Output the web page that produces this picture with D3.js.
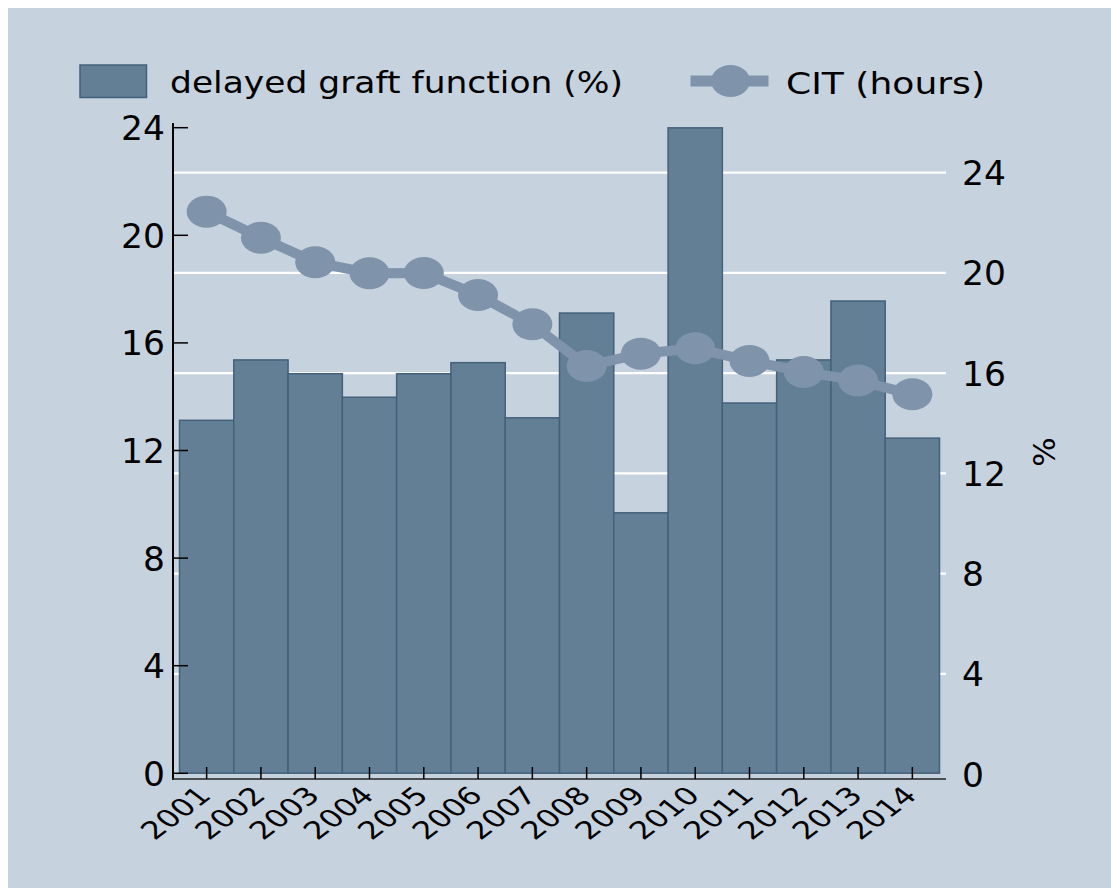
<!DOCTYPE html>
<html>
<head>
<meta charset="utf-8">
<script src="https://cdn.jsdelivr.net/npm/d3@7"></script>
<style>
  body { margin: 0; background: #ffffff; }
  text { font-family: "DejaVu Sans", Verdana, sans-serif; fill: #000000; }
</style>
</head>
<body>
<svg id="chart" width="1111" height="888"></svg>
<script>
// data
var years = ['2001', '2002', '2003', '2004', '2005', '2006', '2007', '2008', '2009', '2010', '2011', '2012', '2013', '2014'];
var dgf = [14.12, 16.53, 15.98, 15.04, 15.98, 16.42, 14.22, 18.40, 10.43, 25.79, 14.81, 16.53, 18.88, 13.41];
var cit = [20.88, 19.91, 19.0, 18.59, 18.6, 17.78, 16.69, 15.14, 15.60, 15.80, 15.33, 14.92, 14.60, 14.09];
var leftTicks = [0, 4, 8, 12, 16, 20, 24];
var rightTicks = [0, 4, 8, 12, 16, 20, 24];

var bg = '#c6d2de';
var barFill = '#637f96';
var barStroke = '#45617a';
var lineColor = '#7f93aa';

var plotLeft = 173;
var plotRight = 946;
var axisY = 779;

var svg = d3.select('#chart');

svg.append('rect')
  .attr('x', 8)
  .attr('y', 8)
  .attr('width', 1103)
  .attr('height', 880)
  .attr('fill', bg);

// scales
var x = d3.scaleBand()
  .domain(years)
  .range([179.5, 939.5])
  .padding(0);

var yLeft = d3.scaleLinear()
  .domain([0, 24])
  .range([773.3, 127.7]);

var yRight = d3.scaleLinear()
  .domain([0, 24])
  .range([774.2, 172.7]);

// gridlines (right axis)
svg.append('g')
  .selectAll('line')
  .data(rightTicks.filter(function(d) { return d > 0; }))
  .enter().append('line')
  .attr('x1', plotLeft)
  .attr('x2', plotRight)
  .attr('y1', function(d) { return yRight(d); })
  .attr('y2', function(d) { return yRight(d); })
  .attr('stroke', '#ffffff')
  .attr('stroke-width', 2.2);

// bars
svg.append('g')
  .selectAll('rect')
  .data(dgf)
  .enter().append('rect')
  .attr('x', function(d, i) { return x(years[i]); })
  .attr('width', x.bandwidth())
  .attr('y', function(d) { return yRight(d); })
  .attr('height', function(d) { return yRight(0) - yRight(d) - 1; })
  .attr('fill', barFill)
  .attr('stroke', barStroke)
  .attr('stroke-width', 1.5);

// CIT line
var line = d3.line()
  .x(function(d, i) { return x(years[i]) + x.bandwidth() / 2; })
  .y(function(d) { return yLeft(d); });

svg.append('path')
  .datum(cit)
  .attr('d', line)
  .attr('fill', 'none')
  .attr('stroke', lineColor)
  .attr('stroke-width', 10);

svg.append('g')
  .selectAll('ellipse')
  .data(cit)
  .enter().append('ellipse')
  .attr('cx', function(d, i) { return x(years[i]) + x.bandwidth() / 2; })
  .attr('cy', function(d) { return yLeft(d); })
  .attr('rx', 20)
  .attr('ry', 16)
  .attr('fill', lineColor);

// left axis
var leftAxis = svg.append('g');

leftAxis.append('line')
  .attr('x1', plotLeft)
  .attr('x2', plotLeft)
  .attr('y1', 123)
  .attr('y2', axisY + 1)
  .attr('stroke', '#000000')
  .attr('stroke-width', 2);

leftAxis.selectAll('.tick')
  .data(leftTicks)
  .enter().append('line')
  .attr('x1', plotLeft)
  .attr('x2', plotLeft + 15)
  .attr('y1', function(d) { return yLeft(d); })
  .attr('y2', function(d) { return yLeft(d); })
  .attr('stroke', '#000000')
  .attr('stroke-width', 1.5);

leftAxis.selectAll('text')
  .data(leftTicks)
  .enter().append('text')
  .attr('x', 165)
  .attr('y', function(d) { return yLeft(d); })
  .attr('dy', '0.36em')
  .attr('text-anchor', 'end')
  .style('font-size', '34.5px')
  .text(function(d) { return d; });

// right axis labels
var rightAxis = svg.append('g');

rightAxis.selectAll('text')
  .data(rightTicks)
  .enter().append('text')
  .attr('x', 962)
  .attr('y', function(d) { return yRight(d); })
  .attr('dy', '0.36em')
  .attr('text-anchor', 'start')
  .style('font-size', '34.5px')
  .text(function(d) { return d; });

rightAxis.append('text')
  .attr('transform', 'translate(1044,452) rotate(-90)')
  .attr('dy', '0.36em')
  .attr('text-anchor', 'middle')
  .style('font-size', '31px')
  .text('%');

// x axis
var xAxis = svg.append('g');

xAxis.append('line')
  .attr('x1', plotLeft - 1)
  .attr('x2', plotRight)
  .attr('y1', axisY)
  .attr('y2', axisY)
  .attr('stroke', '#222222')
  .attr('stroke-width', 1.5);

xAxis.selectAll('.tick')
  .data(years)
  .enter().append('line')
  .attr('x1', function(d) { return x(d) + x.bandwidth() / 2; })
  .attr('x2', function(d) { return x(d) + x.bandwidth() / 2; })
  .attr('y1', axisY)
  .attr('y2', axisY - 12)
  .attr('stroke', '#000000')
  .attr('stroke-width', 1.5);

// labels look sheared in the original, so stretch the rotated text sideways
xAxis.selectAll('text')
  .data(years)
  .enter().append('text')
  .attr('transform', function(d) {
    return 'translate(' + (x(d) + x.bandwidth() / 2 + 6) + ',' + (axisY + 18) + ') scale(1.32,1) rotate(-45)';
  })
  .attr('text-anchor', 'end')
  .style('font-size', '24.5px')
  .text(function(d) { return d; });

// legend
var legend = svg.append('g');

legend.append('rect')
  .attr('x', 80)
  .attr('y', 65)
  .attr('width', 66.5)
  .attr('height', 32.5)
  .attr('fill', barFill)
  .attr('stroke', barStroke)
  .attr('stroke-width', 1.5);

legend.append('text')
  .attr('x', 170)
  .attr('y', 92.5)
  .attr('textLength', 453)
  .attr('lengthAdjust', 'spacingAndGlyphs')
  .style('font-size', '31px')
  .text('delayed graft function (%)');

legend.append('line')
  .attr('x1', 690.5)
  .attr('x2', 768.5)
  .attr('y1', 81)
  .attr('y2', 81)
  .attr('stroke', lineColor)
  .attr('stroke-width', 11);

legend.append('ellipse')
  .attr('cx', 730.5)
  .attr('cy', 81)
  .attr('rx', 19.5)
  .attr('ry', 16)
  .attr('fill', lineColor);

legend.append('text')
  .attr('x', 786)
  .attr('y', 94)
  .attr('textLength', 199)
  .attr('lengthAdjust', 'spacingAndGlyphs')
  .style('font-size', '31px')
  .text('CIT (hours)');
</script>
</body>
</html>
